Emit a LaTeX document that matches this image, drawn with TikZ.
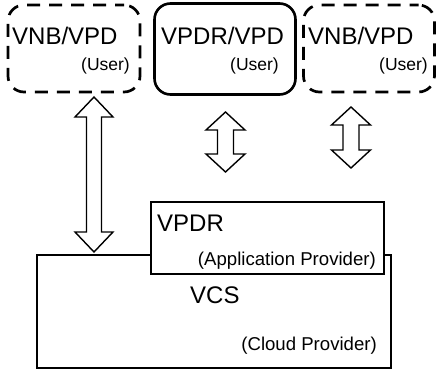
\documentclass[tikz,border=0pt]{standalone}
\usepackage{fontspec}
\setmainfont{Liberation Sans}
\usetikzlibrary{calc}

% vertical two-headed block arrow: top point, bottom point,
% shaft half width, head half width, head length
\newcommand{\vdarrow}[5]{%
  \draw[blockarrow] let \p1=(#1), \p2=(#2) in
    (\x1,\y1) -- (\x1+#4,\y1-#5) -- (\x1+#3,\y1-#5) -- (\x1+#3,\y2+#5)
    -- (\x1+#4,\y2+#5) -- (\x1,\y2) -- (\x1-#4,\y2+#5) -- (\x1-#3,\y2+#5)
    -- (\x1-#3,\y1-#5) -- (\x1-#4,\y1-#5) -- cycle;}

\begin{document}
\begin{tikzpicture}[x=1pt,y=-1pt,
  userbox/.style={draw, line width=2.7pt, rounded corners=16pt, dash pattern=on 13pt off 9pt, dash phase=4pt, inner sep=0pt},
  solidbox/.style={draw, line width=2.6pt, rounded corners=16pt, inner sep=0pt},
  provbox/.style={draw, line width=2.7pt, fill=white, inner sep=0pt},
  blockarrow/.style={draw, line width=1.4pt, fill=white, line join=miter},
  bigtxt/.style={inner sep=0pt, anchor=base west, font=\fontsize{24}{28}\selectfont},
  smalltxt/.style={inner sep=0pt, anchor=base east, font=\fontsize{17.5}{20}\selectfont},
  midtxt/.style={inner sep=0pt, anchor=base east, font=\fontsize{18.6}{22}\selectfont}]
\useasboundingbox (0,0) rectangle (437,372);

% user side
\node[userbox, minimum width=132pt, minimum height=87pt] (userL) at (74,48.5) {};
\node[solidbox, minimum width=141pt, minimum height=91pt] (userM) at (225,49) {};
\node[userbox, minimum width=131pt, minimum height=87pt] (userR) at (369,48.5) {};

\node[bigtxt] (tL) at (12,44) {VNB/VPD};
\node[smalltxt] (sL) at (130,70) {(User)};
\node[bigtxt] (tM) at (161,44) {VPDR/VPD};
\node[smalltxt] (sM) at (279,70) {(User)};
\node[bigtxt] (tR) at (308,44) {VNB/VPD};
\node[smalltxt] (sR) at (428,70) {(User)};

% provider side
\node[provbox, minimum width=354pt, minimum height=113pt] (vcs) at (214,311.5) {};
\node[provbox, minimum width=233pt, minimum height=72pt] (vpdr) at (267.5,238) {};

\node[bigtxt] (tVPDR) at (157,231) {VPDR};
\node[midtxt] (sVPDR) at (376,265) {(Application Provider)};
\node[bigtxt] (tVCS) at (190,303) {VCS};
\node[midtxt] (sVCS) at (377,350) {(Cloud Provider)};

% connecting block arrows
\coordinate (a1t) at (94,97);
\coordinate (a1b) at (94,252);
\coordinate (a2t) at (225.5,112);
\coordinate (a2b) at (225.5,172);
\coordinate (a3t) at (351,107);
\coordinate (a3b) at (351,168);
\vdarrow{a1t}{a1b}{7.5pt}{19pt}{20pt}
\vdarrow{a2t}{a2b}{8pt}{19.5pt}{18pt}
\vdarrow{a3t}{a3b}{8pt}{19.5pt}{18pt}
\end{tikzpicture}
\end{document}
